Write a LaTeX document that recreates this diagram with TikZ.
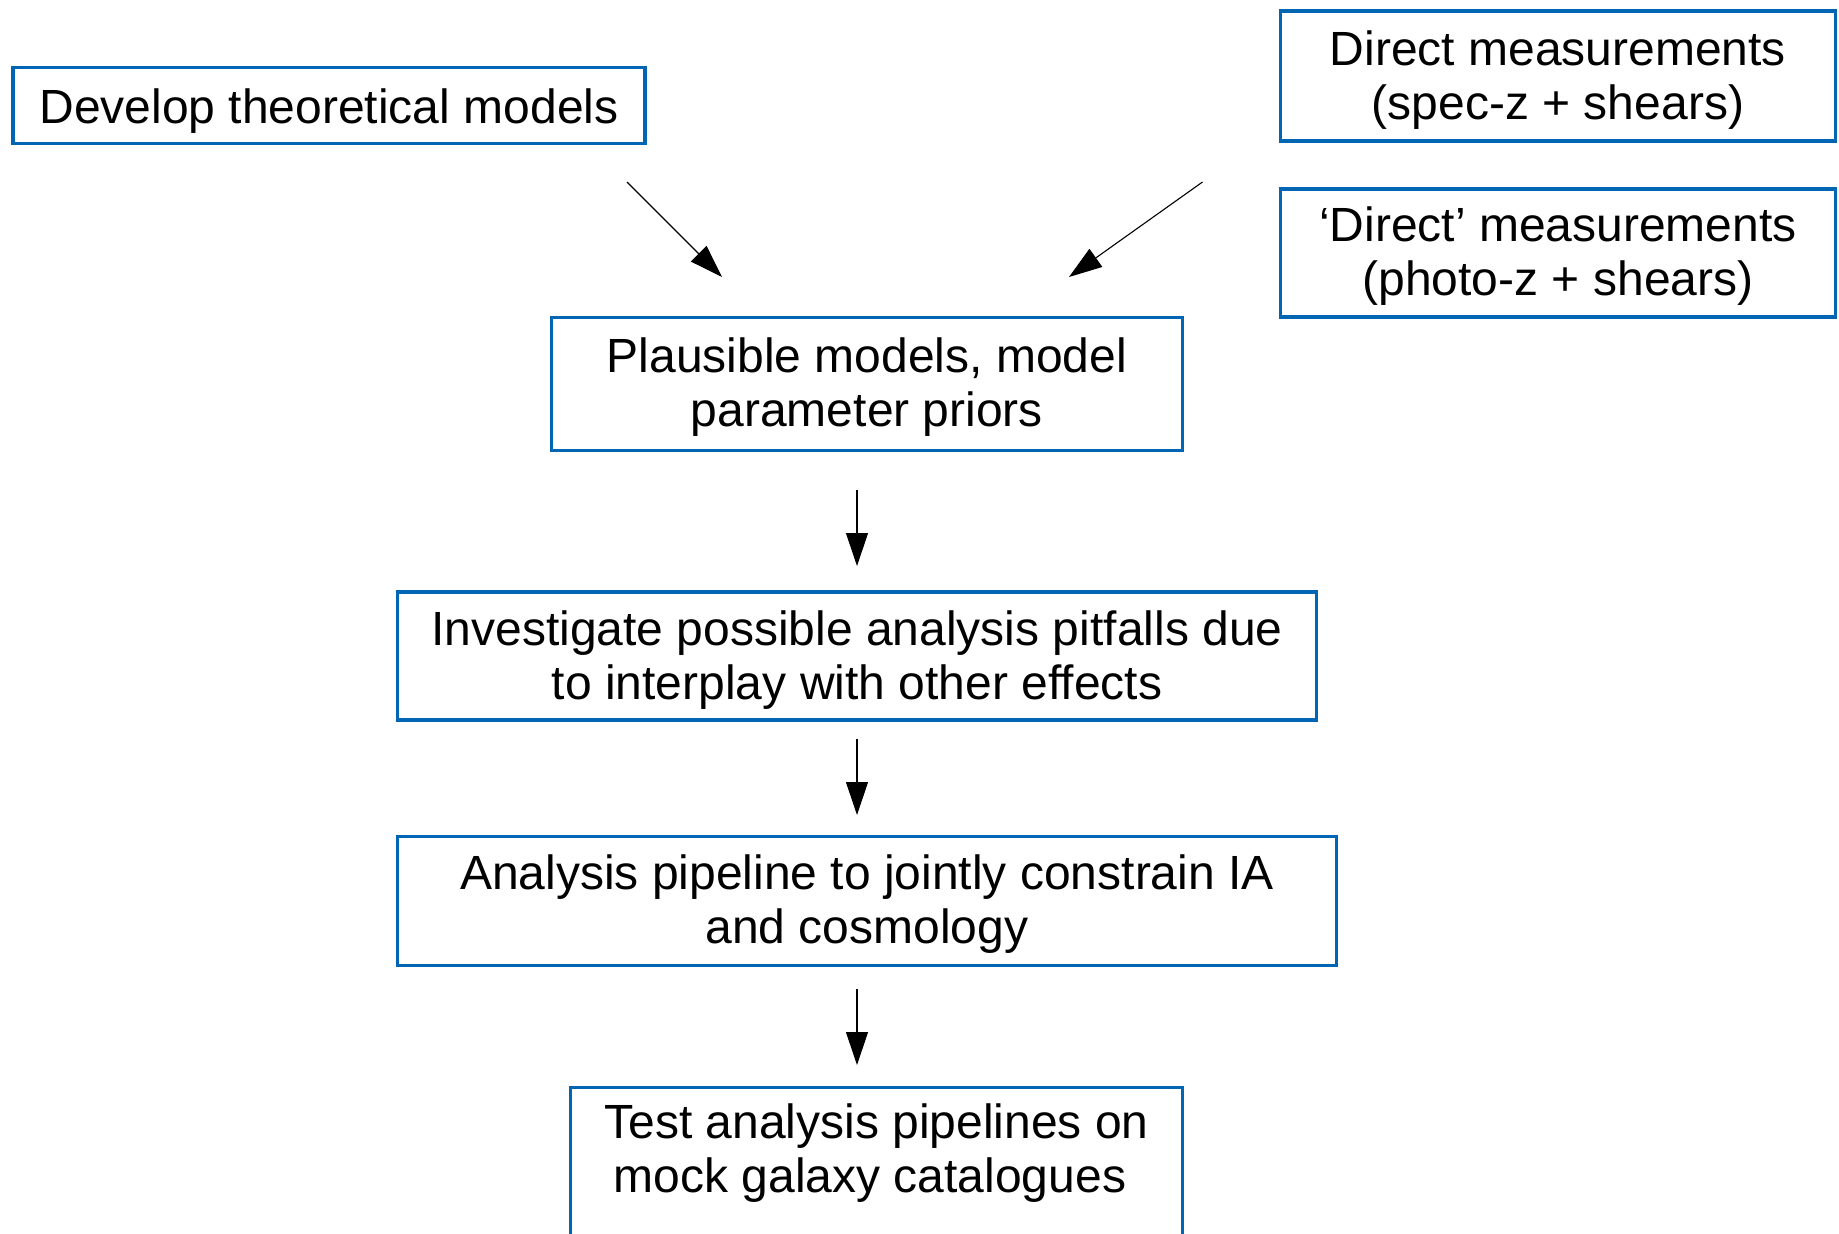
\documentclass[tikz,border=0pt]{standalone}
\usepackage{fontspec}
\setmainfont{Liberation Sans}
\usetikzlibrary{arrows.meta}
\definecolor{boxblue}{RGB}{0,102,179}
\newcommand\mytop[1]{\rule{0pt}{#1}}
\begin{document}
\begin{tikzpicture}[x=1pt,y=-1pt,
  box/.style={draw=boxblue,line width=3.5pt,rectangle,inner sep=0pt,align=center,
    font=\fontsize{48}{54}\selectfont},
  arr/.style={line width=1.1pt,-{Triangle[length=33pt,width=22pt]}}]
\clip (0,0) rectangle (1839,1234);
\fill[white] (0,0) rectangle (1839,1234);
\node[box,minimum width=632pt,minimum height=76pt] (dev) at (329,105.5) {\mytop{45pt}Develop theoretical models};
\node[box,minimum width=555pt,minimum height=130pt] (spec) at (1558,76) {\mytop{42pt}Direct measurements\\(spec-z + shears)};
\node[box,minimum width=555pt,minimum height=128pt] (phot) at (1558,253) {\mytop{41pt}‘Direct’ measurements\\(photo-z + shears)};
\node[box,minimum width=631pt,minimum height=133pt] (plaus) at (867,384) {\mytop{40pt}Plausible models, model\\parameter priors};
\node[box,minimum width=919pt,minimum height=128pt] (inv) at (857,656) {\mytop{42pt}Investigate possible analysis pitfalls due\\to interplay with other effects};
\node[box,minimum width=939pt,minimum height=129pt] (pipe) at (867,901) {\mytop{40pt}Analysis pipeline to jointly constrain IA\\and cosmology};
\node[box,minimum width=612pt,anchor=north,inner ysep=16pt] (test) at (876.5,1085.5) {Test analysis pipelines on\\mock galaxy catalogues\hspace{13pt}\mbox{}\\\strut};
\coordinate (a1s) at (627,182);
\coordinate (a1e) at (722,277);
\coordinate (a2s) at (1202.5,182);
\coordinate (a2e) at (1069,277);
\coordinate (a3s) at (857,490);
\coordinate (a3e) at (857,566);
\coordinate (a4s) at (857,739);
\coordinate (a4e) at (857,815);
\coordinate (a5s) at (857,989);
\coordinate (a5e) at (857,1065);
\draw[arr] (a1s) -- (a1e);
\draw[arr] (a2s) -- (a2e);
\draw[arr] (a3s) -- (a3e);
\draw[arr] (a4s) -- (a4e);
\draw[arr] (a5s) -- (a5e);
\end{tikzpicture}
\end{document}
